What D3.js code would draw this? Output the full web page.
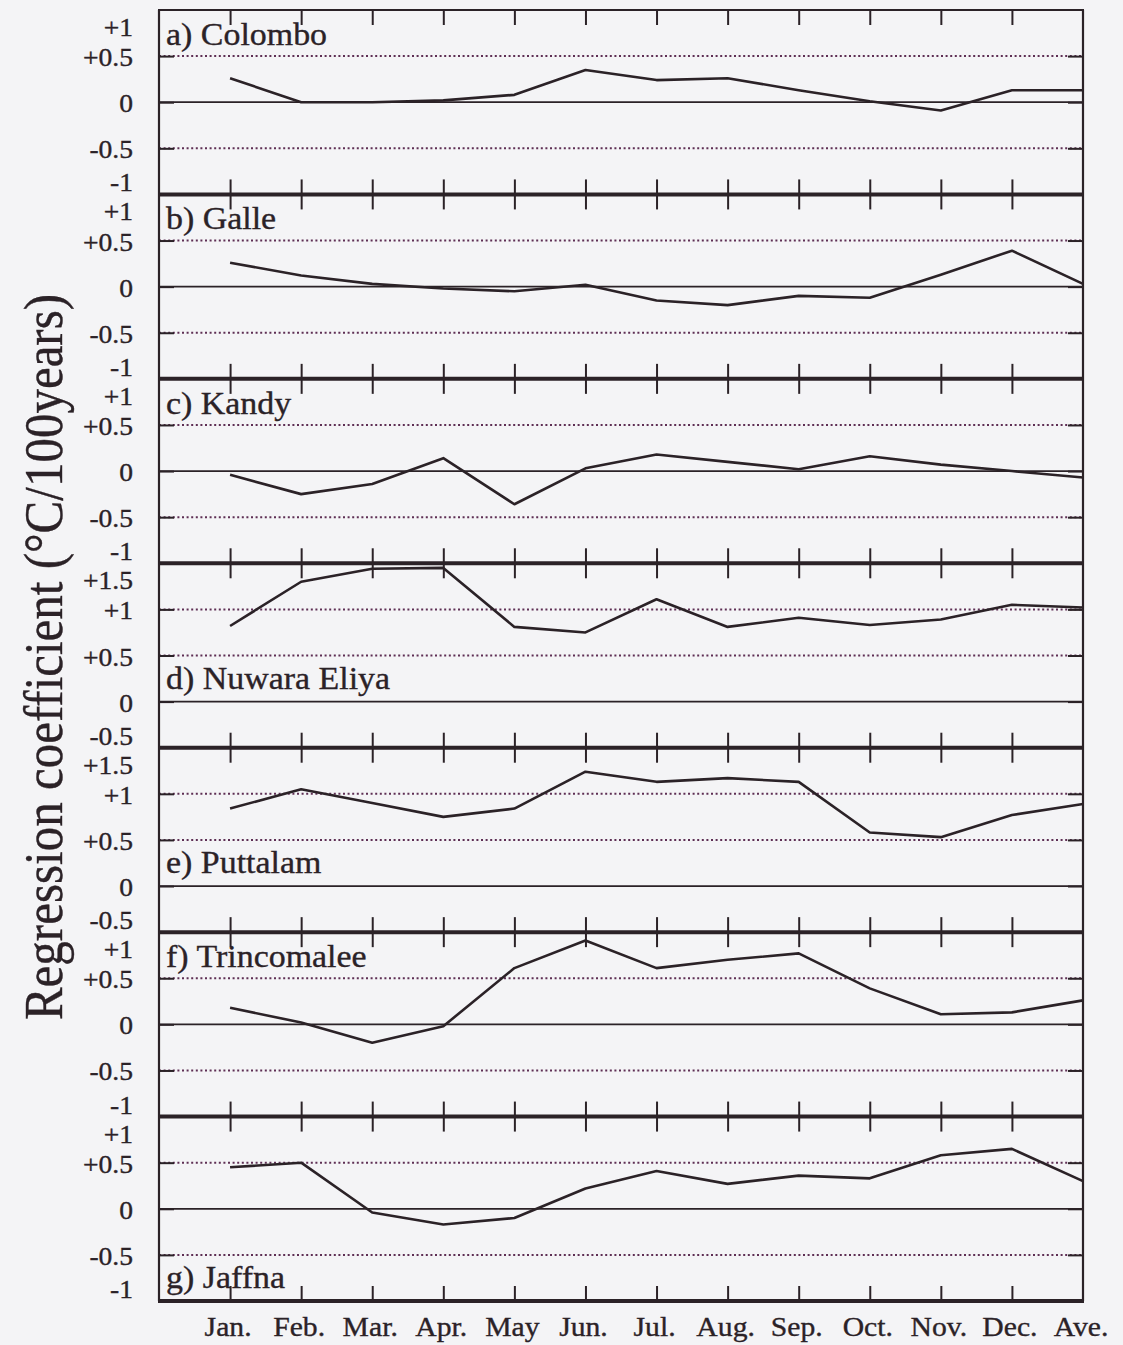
<!DOCTYPE html>
<html>
<head>
<meta charset="utf-8">
<script src="https://cdn.jsdelivr.net/npm/d3@7.9.0/dist/d3.min.js"></script>
<style>
  html, body { margin: 0; padding: 0; background: #f4f4f6; }
  svg { display: block; }
  text { font-family: "Liberation Serif", "Times New Roman", serif; fill: #2b2227; stroke: #2b2227; stroke-width: 0.35px; }
</style>
</head>
<body>
<svg id="chart" width="1123" height="1345"></svg>
<script>
// ========== Data ==========

const months = ['Jan.', 'Feb.', 'Mar.', 'Apr.', 'May', 'Jun.', 'Jul.', 'Aug.', 'Sep.', 'Oct.', 'Nov.', 'Dec.', 'Ave.'];

const stationNames = ['a) Colombo', 'b) Galle', 'c) Kandy', 'd) Nuwara Eliya', 'e) Puttalam', 'f) Trincomalee', 'g) Jaffna'];

// regression coefficients, degC / 100 years (Jan..Dec, annual average)
const colombo    = [0.26, 0.00, 0.00, 0.02, 0.08, 0.35, 0.24, 0.26, 0.13, 0.01, -0.09, 0.13, 0.13];
const galle      = [0.26, 0.12, 0.03, -0.02, -0.05, 0.02, -0.15, -0.20, -0.10, -0.12, 0.13, 0.39, 0.03];
const kandy      = [-0.04, -0.25, -0.14, 0.14, -0.36, 0.03, 0.18, 0.10, 0.02, 0.16, 0.07, 0.00, -0.07];
const nuwaraEliya = [0.82, 1.30, 1.44, 1.45, 0.81, 0.75, 1.11, 0.81, 0.91, 0.83, 0.89, 1.05, 1.02];
const puttalam   = [0.84, 1.05, 0.90, 0.75, 0.84, 1.24, 1.13, 1.17, 1.13, 0.58, 0.53, 0.77, 0.89];
const trincomalee = [0.18, 0.02, -0.20, -0.02, 0.61, 0.91, 0.61, 0.70, 0.77, 0.39, 0.11, 0.13, 0.26];
const jaffna     = [0.45, 0.50, -0.04, -0.17, -0.10, 0.22, 0.41, 0.27, 0.36, 0.33, 0.58, 0.65, 0.30];

// y tick values for the two kinds of panel
const ticksNormal = [1, 0.5, 0, -0.5, -1];
const ticksHigh   = [1.5, 1, 0.5, 0, -0.5];

const series = [colombo, galle, kandy, nuwaraEliya, puttalam, trincomalee, jaffna];
const tickSets = [ticksNormal, ticksNormal, ticksNormal, ticksHigh, ticksHigh, ticksNormal, ticksNormal];
// where the station name sits: near top, above the zero line, or at the bottom
const labelSpots = ['top', 'top', 'top', 'zero', 'zero', 'top', 'bottom'];

// ========== Layout ==========

const plotLeft = 159, plotRight = 1083, plotTop = 10, plotBottom = 1301;
const panelH = (plotBottom - plotTop) / series.length;
const SX = 1.06;              // the scanned lettering is a bit wide
const ink = '#2b2227';
const dotColor = '#5e2f54';

const svg = d3.select('#chart');

const x = d3.scaleLinear().domain([-1, months.length - 1]).range([plotLeft, plotRight]);

const fmt = (v) => (v > 0 ? '+' + v : String(v));

// stretched text helper
function stext(g, tx, ty, str, size, anchor) {
  return g.append('text')
    .attr('transform', `translate(${tx},${ty}) scale(${SX},1)`)
    .attr('text-anchor', anchor)
    .style('font-size', size + 'px')
    .text(str);
}

series.forEach((values, i) => {
  const y0 = plotTop + i * panelH;
  const y1 = y0 + panelH;
  const ticks = tickSets[i];
  const y = d3.scaleLinear().domain(d3.extent(ticks)).range([y1, y0]);
  const g = svg.append('g');

  // grid: dotted at inner ticks, thin solid at zero
  const inner = ticks.slice(1, -1);
  inner.forEach((t) => {
    g.append('line')
      .attr('x1', plotLeft).attr('x2', plotRight)
      .attr('y1', y(t)).attr('y2', y(t))
      .attr('stroke', t === 0 ? ink : dotColor)
      .attr('stroke-width', t === 0 ? 1.8 : 2)
      .attr('stroke-dasharray', t === 0 ? null : '2,2.6');
  });

  // month ticks on top (pointing down) and bottom (pointing up)
  const monthTicks = d3.range(0, months.length - 1);
  const topAxis = d3.axisBottom(x).tickValues(monthTicks).tickSize(15).tickFormat('');
  const botAxis = d3.axisTop(x).tickValues(monthTicks).tickSize(15).tickFormat('');
  g.append('g').attr('transform', `translate(0,${y0})`).call(topAxis);
  g.append('g').attr('transform', `translate(0,${y1})`).call(botAxis);

  // y ticks on both sides
  const leftAxis = d3.axisRight(y).tickValues(inner).tickSize(15).tickFormat('');
  const rightAxis = d3.axisLeft(y).tickValues(inner).tickSize(15).tickFormat('');
  g.append('g').attr('transform', `translate(${plotLeft},0)`).call(leftAxis);
  g.append('g').attr('transform', `translate(${plotRight},0)`).call(rightAxis);

  g.selectAll('.domain').remove();
  g.selectAll('.tick line').attr('stroke', ink).attr('stroke-width', 2);

  // y tick labels
  ticks.forEach((t, k) => {
    let ty = y(t) + 10;
    if (k === 0) ty = y0 + 26;
    if (k === ticks.length - 1) ty = y1 - 3;
    stext(g, 133, ty, fmt(t), 26, 'end');
  });

  // the series line
  const line = d3.line()
    .x((d, j) => x(j))
    .y((d) => y(d));
  g.append('path')
    .datum(values)
    .attr('d', line)
    .attr('fill', 'none')
    .attr('stroke', ink)
    .attr('stroke-width', 2.6)
    .attr('stroke-linejoin', 'round');

  // station name
  let ly = y0 + 35;
  if (labelSpots[i] === 'zero') ly = y(0) - 13;
  if (labelSpots[i] === 'bottom') ly = y1 - 13;
  stext(g, 166, ly, stationNames[i], 32, 'start');

  // panel separator (thick) on top edge
  g.append('line')
    .attr('x1', plotLeft - 1).attr('x2', plotRight + 1)
    .attr('y1', y0).attr('y2', y0)
    .attr('stroke', ink)
    .attr('stroke-width', i === 0 ? 2 : 4);
});

// bottom edge and side borders
svg.append('line')
  .attr('x1', plotLeft - 1).attr('x2', plotRight + 1)
  .attr('y1', plotBottom).attr('y2', plotBottom)
  .attr('stroke', ink).attr('stroke-width', 4);
[plotLeft, plotRight].forEach((bx) => {
  svg.append('line')
    .attr('x1', bx).attr('x2', bx)
    .attr('y1', plotTop).attr('y2', plotBottom)
    .attr('stroke', ink).attr('stroke-width', 2.2);
});

// month labels
const labels = svg.append('g');
months.forEach((m, j) => {
  stext(labels, x(j) - 2, 1336, m, 28, 'middle');
});

// y axis title
svg.append('text')
  .attr('transform', 'translate(62,657) rotate(-90) scale(1,1.12)')
  .attr('text-anchor', 'middle')
  .style('font-size', '49px')
  .text('Regression coefficient (°C/100years)');
</script>
</body>
</html>
